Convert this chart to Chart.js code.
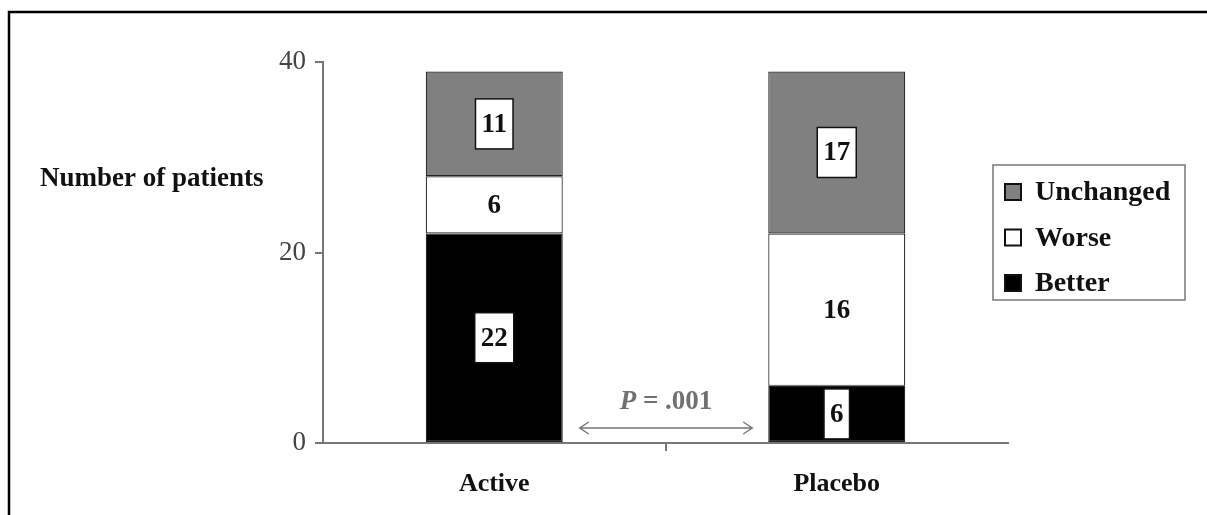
<!DOCTYPE html>
<html>
<head>
<meta charset="utf-8">
<title>Number of patients</title>
<script src="https://cdn.jsdelivr.net/npm/chart.js@4.4.1/dist/chart.umd.min.js"></script>
<style>
  html, body { margin: 0; padding: 0; background: #fff; }
  #wrap { width: 1207px; height: 515px; }
</style>
</head>
<body>
<div id="wrap"><canvas id="chart" width="1207" height="515"></canvas></div>
<script>
  /* ---------- Data ---------- */
  var CATEGORIES = ['Active', 'Placebo'];
  var BETTER = [22, 6];
  var WORSE = [6, 16];
  var UNCHANGED = [11, 17];
  var Y_MIN = 0, Y_MAX = 40, Y_STEP = 20;
  var P_TEXT = '.001';

  var SERIF = "'Liberation Serif', 'DejaVu Serif', serif";
  var GREY = '#808080';

  /* ---------- Decorations: frame, value boxes, legend, P annotation ---------- */
  var decor = {
    id: 'decor',
    beforeDraw: function (chart) {
      var c = chart.ctx;
      c.save();
      c.fillStyle = '#fff';
      c.fillRect(0, 0, chart.width, chart.height);
      c.restore();
    },
    afterDraw: function (chart) {
      var c = chart.ctx;
      var area = chart.chartArea;
      c.save();

      // outer frame (top + left only)
      c.strokeStyle = '#000';
      c.lineWidth = 2.5;
      c.beginPath();
      c.moveTo(chart.width, 12);
      c.lineTo(9, 12);
      c.lineTo(9, chart.height);
      c.stroke();

      // y axis title, horizontal
      c.fillStyle = '#111';
      c.font = 'bold 27px ' + SERIF;
      c.textAlign = 'left';
      c.textBaseline = 'middle';
      c.fillText('Number of patients', 40, 179);

      // value boxes
      c.font = 'bold 27px ' + SERIF;
      c.textAlign = 'center';
      chart.data.datasets.forEach(function (ds, di) {
        var meta = chart.getDatasetMeta(di);
        meta.data.forEach(function (bar, i) {
          var txt = String(ds.data[i]);
          var cy = (bar.y + bar.base) / 2;
          var w = c.measureText(txt).width + 12;
          var h = Math.min(50, Math.abs(bar.base - bar.y) - 5);
          if (ds.backgroundColor !== '#ffffff') {
            c.fillStyle = '#fff';
            c.fillRect(bar.x - w / 2, cy - h / 2, w, h);
            c.strokeStyle = '#111';
            c.lineWidth = 1.5;
            c.strokeRect(bar.x - w / 2, cy - h / 2, w, h);
          }
          c.fillStyle = '#111';
          c.fillText(txt, bar.x, cy + 1);
        });
      });

      // legend box
      var lx = 993, ly = 165, lw = 192, lh = 135;
      c.strokeStyle = '#777';
      c.lineWidth = 1.5;
      c.strokeRect(lx, ly, lw, lh);
      c.font = 'bold 28px ' + SERIF;
      c.textAlign = 'left';
      var items = chart.data.datasets.slice().reverse();
      items.forEach(function (ds, k) {
        var yy = 192 + k * 45.5;
        c.fillStyle = ds.backgroundColor;
        c.fillRect(1005, yy - 8, 16, 16);
        c.strokeStyle = '#111';
        c.lineWidth = 2;
        c.strokeRect(1005, yy - 8, 16, 16);
        c.fillStyle = '#111';
        c.fillText(ds.label, 1035, yy + 1);
      });

      // P annotation between the bars
      var x0 = chart.getDatasetMeta(0).data[0];
      var x1 = chart.getDatasetMeta(0).data[1];
      var ax0 = x0.x + x0.width / 2 + 17;
      var ax1 = x1.x - x1.width / 2 - 16;
      var ay = area.bottom - 15;
      c.strokeStyle = '#777';
      c.lineWidth = 1.5;
      c.beginPath();
      c.moveTo(ax0, ay);
      c.lineTo(ax1, ay);
      c.moveTo(ax0 + 9, ay - 6);
      c.lineTo(ax0, ay);
      c.lineTo(ax0 + 9, ay + 6);
      c.moveTo(ax1 - 9, ay - 6);
      c.lineTo(ax1, ay);
      c.lineTo(ax1 - 9, ay + 6);
      c.stroke();

      var mid = (ax0 + ax1) / 2;
      c.fillStyle = '#707070';
      c.textBaseline = 'middle';
      c.font = 'italic bold 27px ' + SERIF;
      var pW = c.measureText('P').width;
      c.font = 'bold 27px ' + SERIF;
      var rest = ' = ' + P_TEXT;
      var rW = c.measureText(rest).width;
      var sx = mid - (pW + rW) / 2;
      c.textAlign = 'left';
      c.font = 'italic bold 27px ' + SERIF;
      c.fillText('P', sx, ay - 26);
      c.font = 'bold 27px ' + SERIF;
      c.fillText(rest, sx + pW, ay - 26);

      c.restore();
    }
  };

  /* ---------- Chart ---------- */
  var barStyle = { borderColor: '#222', borderWidth: 1.2, borderSkipped: false, barPercentage: 0.4, categoryPercentage: 1 };

  new Chart(document.getElementById('chart'), {
    type: 'bar',
    data: {
      labels: CATEGORIES,
      datasets: [
        Object.assign({ label: 'Better', data: BETTER, backgroundColor: '#000000' }, barStyle),
        Object.assign({ label: 'Worse', data: WORSE, backgroundColor: '#ffffff' }, barStyle),
        Object.assign({ label: 'Unchanged', data: UNCHANGED, backgroundColor: GREY }, barStyle)
      ]
    },
    options: {
      responsive: false,
      animation: false,
      layout: { padding: { left: 0, top: 62, right: 199, bottom: 0 } },
      plugins: { legend: { display: false }, tooltip: { enabled: false } },
      scales: {
        x: {
          stacked: true,
          afterFit: function (s) { s.height = 72; },
          border: { color: '#777', width: 2 },
          grid: {
            offset: true,
            drawOnChartArea: false,
            tickLength: 8,
            lineWidth: 2,
            color: function (ctx) { return ctx.index === 1 ? '#777' : 'rgba(0,0,0,0)'; }
          },
          ticks: { color: '#111', padding: 18, font: { family: SERIF, size: 26, weight: 'bold' } }
        },
        y: {
          stacked: true,
          min: Y_MIN,
          max: Y_MAX,
          afterFit: function (s) { s.width = 323; },
          border: { color: '#777', width: 2 },
          grid: { drawOnChartArea: false, tickLength: 8, lineWidth: 2, color: '#777' },
          ticks: { stepSize: Y_STEP, color: '#444', padding: 9, font: { family: SERIF, size: 27 } }
        }
      }
    },
    plugins: [decor]
  });
</script>
</body>
</html>
